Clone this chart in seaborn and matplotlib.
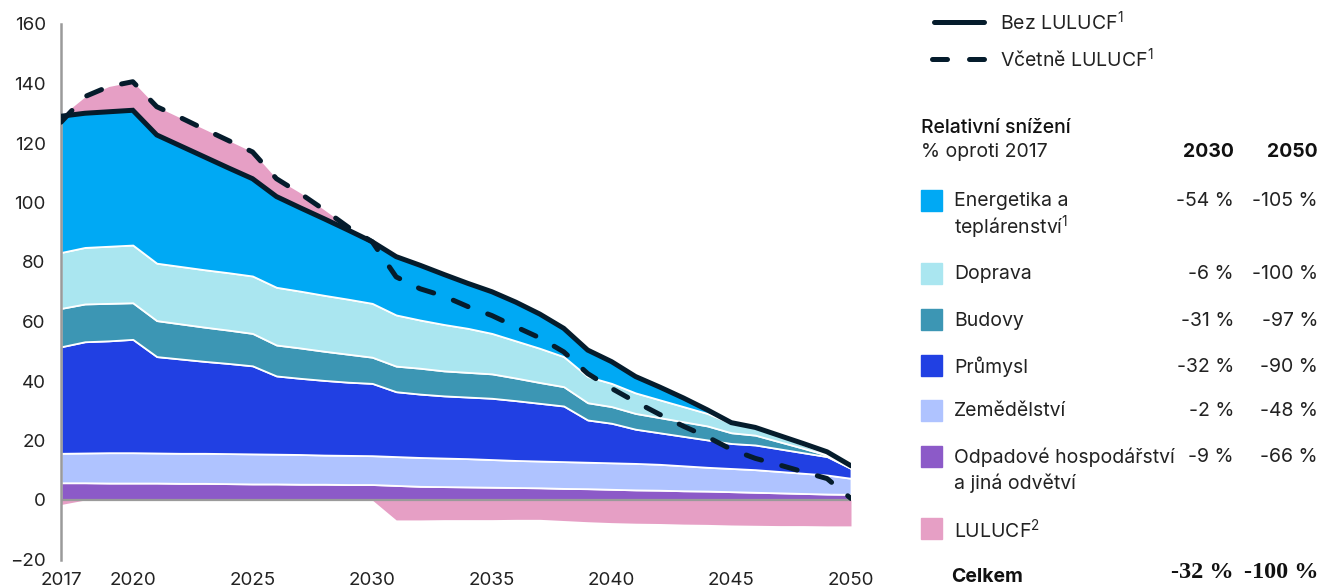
import numpy as np
import matplotlib
matplotlib.use("Agg")
import matplotlib.pyplot as plt
import seaborn as sns
from matplotlib.patches import Rectangle
from matplotlib.lines import Line2D

# data (Mt CO2e)
years = list(range(2017, 2051))

odpad = [5.8, 5.8, 5.7, 5.7, 5.7, 5.6, 5.6, 5.5, 5.4, 5.4, 5.3, 5.3, 5.2, 5.2, 4.9, 4.6, 4.5,
         4.4, 4.3, 4.2, 4.1, 3.9, 3.8, 3.6, 3.4, 3.3, 3.1, 3.0, 2.8, 2.6, 2.4, 2.2, 2.0, 1.9]
zemedelstvi = [9.9, 10.0, 10.2, 10.2, 10.1, 10.1, 10.1, 10.1, 10.1, 10.0, 10.0, 9.8, 9.8, 9.7, 9.7, 9.7, 9.6,
               9.5, 9.3, 9.1, 9.0, 9.0, 8.9, 8.9, 8.9, 8.7, 8.4, 8.0, 7.8, 7.6, 7.2, 6.8, 6.4, 5.4]
prumysl = [35.8, 37.4, 37.6, 38.1, 32.4, 31.7, 30.9, 30.3, 29.6, 26.3, 25.6, 25.1, 24.6, 24.3, 21.8, 21.3, 20.9,
           20.7, 20.6, 20.1, 19.4, 18.7, 14.2, 13.3, 11.5, 10.6, 9.9, 9.2, 8.4, 8.3, 7.6, 6.9, 6.2, 3.3]
budovy = [12.9, 12.7, 12.6, 12.3, 12.1, 11.8, 11.5, 11.2, 10.9, 10.4, 10.2, 9.8, 9.4, 8.8, 8.6, 8.7, 8.4,
          8.3, 8.2, 7.6, 7.0, 6.5, 5.8, 5.6, 5.3, 5.1, 4.9, 4.7, 3.6, 3.3, 2.4, 1.5, 0.5, 0.1]
doprava = [18.8, 19.0, 19.2, 19.4, 19.3, 19.3, 19.3, 19.3, 19.3, 19.4, 19.1, 18.8, 18.5, 18.1, 17.2, 16.2, 15.6,
           14.8, 13.6, 12.5, 11.5, 10.1, 8.8, 7.8, 6.9, 6.0, 5.1, 4.2, 3.2, 2.6, 2.1, 1.2, 0.4, 0.1]
energetika = [45.8, 45.1, 45.2, 45.3, 43.1, 40.5, 37.9, 35.2, 32.7, 30.5, 28.0, 25.7, 23.2, 20.7, 19.6, 18.4, 16.8,
              15.1, 14.0, 13.0, 11.5, 9.5, 8.9, 7.3, 5.5, 4.3, 2.9, 1.2, 0.2, 0.0, 0.0, 0.4, 0.7, 0.7]
lulucf = [-1.5, 5.5, 8.5, 9.6, 9.5, 9.4, 9.3, 9.2, 9.0, 6.0, 5.0, 3.0, 1.0, 0.0, -6.7, -6.7, -6.6,
          -6.6, -6.6, -6.5, -6.5, -6.9, -7.3, -7.6, -7.8, -7.9, -8.1, -8.2, -8.4, -8.5, -8.6, -8.6, -8.7, -8.7]
vcetne_lulucf = [127, 135.6, 139, 140.6, 132.2, 128.5, 124.6, 120.8, 117, 108, 103, 97.5, 91.7, 86.8, 75, 71, 68.5,
                 65, 62, 58.2, 54.5, 49.8, 42.5, 37.5, 33, 28.8, 24.8, 21.2, 17, 14, 11.8, 9.5, 7.2, 0.5]

legend_rows = [["Energetika a", "teplárenství$^{1}$"], ["Doprava"], ["Budovy"], ["Průmysl"],
               ["Zemědělství"], ["Odpadové hospodářství", "a jiná odvětví"], ["LULUCF$^{2}$"]]
pct_2030 = ["-54 %", "-6 %", "-31 %", "-32 %", "-2 %", "-9 %", ""]
pct_2050 = ["-105 %", "-100 %", "-97 %", "-90 %", "-48 %", "-66 %", ""]
total_2030 = "-32 %"
total_2050 = "-100 %"

c_energ = "#00A9F4"
c_dopr = "#AAE6F0"
c_bud = "#3C96B4"
c_prum = "#2140E3"
c_zem = "#AFC3FF"
c_odp = "#8C5AC8"
c_lul = "#E69FC5"
c_line = "#051C2C"
legend_colors = [c_energ, c_dopr, c_bud, c_prum, c_zem, c_odp, c_lul]

sns.set_style("white")
plt.rcParams["font.family"] = ["Inter", "DejaVu Sans"]
plt.rcParams["mathtext.fontset"] = "custom"
plt.rcParams["mathtext.rm"] = "Inter"
plt.rcParams["mathtext.it"] = "Inter"
plt.rcParams["mathtext.bf"] = "Inter:bold"

W, H = 1322, 588
fig = plt.figure(figsize=(W / 100, H / 100), dpi=100)
ax = fig.add_axes([61 / W, 1 - 559.5 / H, (851 - 61) / W, (559.5 - 24) / H])

yrs = np.array(years)
stack = [odpad, zemedelstvi, prumysl, budovy, doprava, energetika]
ax.stackplot(yrs, *stack, colors=[c_odp, c_zem, c_prum, c_bud, c_dopr, c_energ],
             edgecolor="white", linewidth=1.3)

total = np.sum(np.array(stack), axis=0)
lul = np.array(lulucf)
ax.fill_between(yrs, total, total + np.clip(lul, 0, None), color=c_lul, lw=0)
ax.fill_between(yrs, 0, np.clip(lul, None, 0), color=c_lul, lw=0)

ax.axhline(0, color="#9a9a9a", lw=1.6, zorder=3)

sns.lineplot(x=yrs, y=total, ax=ax, color=c_line, lw=3.6, zorder=5)
sns.lineplot(x=yrs, y=vcetne_lulucf, ax=ax, color=c_line, lw=3.6, zorder=6)
solid, dashed = ax.lines[-2], ax.lines[-1]
solid.set_solid_joinstyle("miter")
dashed.set_dashes((3.2, 4.2))
dashed.set_dash_capstyle("round")

ax.set_xlim(2017, 2050)
ax.set_ylim(-20, 160)
ax.set_yticks(range(-20, 161, 20))
ax.set_xticks([2017, 2020, 2025, 2030, 2035, 2040, 2045, 2050])
ax.tick_params(axis="both", length=0, labelsize=13.5, labelcolor="#222222")
ax.tick_params(axis="y", pad=11)
ax.tick_params(axis="x", pad=9)
for s in ["top", "right", "bottom"]:
    ax.spines[s].set_visible(False)
ax.spines["left"].set_color("#9a9a9a")
ax.spines["left"].set_linewidth(1.8)
ax.set_xlabel("")
ax.set_ylabel("")


def fx(x):
    return x / W


def fy(y):
    return 1 - y / H


txt = dict(fontsize=14, color="#222222", va="center")

# line legend
fig.add_artist(Line2D([fx(934), fx(984)], [fy(22), fy(22)], color=c_line, lw=3.6,
                      solid_capstyle="round"))
fig.text(fx(1000), fy(22), "Bez LULUCF$^{1}$", **txt)
fig.add_artist(Line2D([fx(932), fx(988)], [fy(59), fy(59)], color=c_line, lw=3.6,
                      dashes=(3.0, 4.4), dash_capstyle="round"))
fig.text(fx(1000), fy(59), "Včetně LULUCF$^{1}$", **txt)

# table legend
fig.text(fx(921), fy(128), "Relativní snížení", fontsize=14, color="#111111", va="center",
         fontweight="medium")
fig.text(fx(921), fy(152), "% oproti 2017", **txt)
fig.text(fx(1234), fy(152), "2030", fontsize=14, color="#111111", va="center", ha="right",
         fontweight="bold")
fig.text(fx(1318), fy(152), "2050", fontsize=14, color="#111111", va="center", ha="right",
         fontweight="bold")

row_y = [200.5, 273, 319.5, 365.5, 410.5, 456.5, 528.5]
for lines, col, p30, p50, yy in zip(legend_rows, legend_colors, pct_2030, pct_2050, row_y):
    fig.add_artist(Rectangle((fx(921), fy(yy + 10.5)), 21 / W, 21 / H, color=col,
                             transform=fig.transFigure))
    for i, line in enumerate(lines):
        fig.text(fx(954), fy(yy + 1 + i * 26), line, **txt)
    fig.text(fx(1234), fy(yy + 1), p30, ha="right", **txt)
    fig.text(fx(1318), fy(yy + 1), p50, ha="right", **txt)

fig.text(fx(951), fy(577), "Celkem", fontsize=14, color="#111111", va="center", fontweight="bold")
fig.text(fx(1234), fy(572), total_2030, fontsize=17.5, color="#111111", va="center", ha="right",
         fontweight="bold", family="Liberation Serif")
fig.text(fx(1318), fy(572), total_2050, fontsize=17.5, color="#111111", va="center", ha="right",
         fontweight="bold", family="Liberation Serif")

fig.savefig("out.png", dpi=100)
